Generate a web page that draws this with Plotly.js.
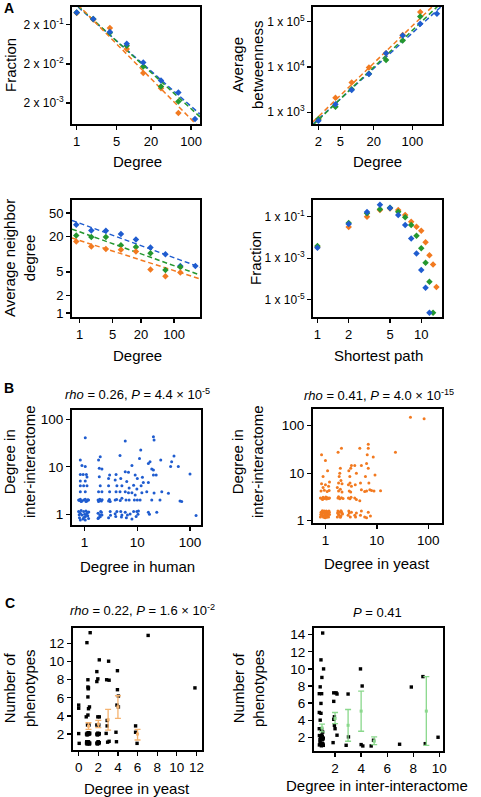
<!DOCTYPE html>
<html><head><meta charset="utf-8">
<script src="https://cdn.plot.ly/plotly-3.0.1.min.js"></script>
<style>html,body{margin:0;padding:0;background:#fff;}#chart{width:481px;height:797px;}</style>
</head><body><div id="chart"></div>
<script>
// ---------- Panel A1: degree distribution ----------
const A1_deg = [1, 1.95, 3.8, 7.5, 14.6, 29.8, 60, 117];
const A1_blue = [0.41, 0.28, 0.13, 0.065, 0.0218, 0.0075, 0.00375, 0.00079];
const A1_green = [0.41, 0.28, 0.125, 0.058, 0.0173, 0.0053, 0.0022];
const A1_orange = [0.40, 0.27, 0.165, 0.048, 0.0117, 0.0048, 0.00112];
const A1_fitX = [0.83, 143];
const A1_fitBlue = [0.771, 0.00105];
const A1_fitGreen = [0.822, 0.000893];
const A1_fitOrange = [0.91, 0.000459];
const A1_yticks = [0.2, 0.02, 0.002];
const A1_yticktext = ['2 x 10<sup>-1</sup>', '2 x 10<sup>-2</sup>', '2 x 10<sup>-3</sup>'];
const A_xticks = [1, 5, 20, 100];

// ---------- Panel A2: betweenness ----------
const A2_deg = [2, 4.07, 8, 16.4, 33.5, 67, 139, 279];
const A2_blue = [653, 1500, 3100, 7000, 20000, 49000, 89000, 148000];
const A2_green = [711, 1330, 3220, 7010, 14250, 38100, 129000];
const A2_orange = [711, 2100, 4500, 9660, 20000, 50000, 161000];
const A2_fitX = [1.6, 344];
const A2_fitBlue = [552, 221000];
const A2_fitGreen = [526, 265500];
const A2_fitOrange = [619, 340000];
const A2_xticks = [2, 5, 20, 100];
const A2_yticks = [1000, 10000, 100000];
const A2_yticktext = ['1 x 10<sup>3</sup>', '1 x 10<sup>4</sup>', '1 x 10<sup>5</sup>'];

// ---------- Panel A3: average neighbour degree ----------
const A3_deg = [0.85, 1.77, 3.6, 7.5, 15.6, 31.7, 65.8, 136, 283];
const A3_blue = [31.7, 25.3, 25, 22, 17.8, 13, 10, 6.3, 6.3];
const A3_green = [20.8, 19.5, 19.5, 14.2, 13.3, 10.4, 5.4, 6.07];
const A3_orange = [16.4, 13.5, 12.3, 11.9, 11.1, 5.5, 4.2, 4.9];
const A3_fitX = [0.69, 356];
const A3_fitBlue = [37.5, 6.0];
const A3_fitGreen = [26.7, 4.42];
const A3_fitOrange = [18.8, 3.8];
const A3_yticks = [1, 2, 5, 20, 50];

// ---------- Panel A4: shortest path ----------
const A4_path = [1, 2, 3, 4, 5, 6, 7, 8, 9, 10, 11, 12, 13, 14];
const A4_blue = [0.0032, 0.045, 0.17, 0.38, 0.26, 0.12, 0.04, 0.009, 0.0017, 0.00027, 0.000037, 0.0000023];
const A4_green = [0.0039, 0.05, 0.146, 0.23, 0.27, 0.175, 0.093, 0.04, 0.012, 0.003, 0.0006, 0.000072, 0.0000023];
const A4_orange = [0.0035, 0.032, 0.10, 0.21, 0.25, 0.21, 0.12, 0.0575, 0.033, 0.021, 0.0058, 0.0014, 0.0005, 0.00004];
const A4_xticks = [1, 2, 5, 10];
const A4_yticks = [0.1, 0.001, 0.00001];
const A4_yticktext = ['1 x 10<sup>-1</sup>', '1 x 10<sup>-3</sup>', '1 x 10<sup>-5</sup>'];

// ---------- Panel B1: human degree vs inter-interactome degree ----------
const B1_pts = [
 [1.03,41],[0.83,13.9],[0.89,10.6],[1.03,10.1],[0.83,6.9],[0.94,6.9],[1.08,6.9],[1.11,6.1],[0.83,5.0],[1.03,5.0],
 [0.83,4.0],[0.96,4.0],[1.11,4.0],[0.83,3.0],[1.03,3.0],
 [0.77,2.0],[0.83,2.07],[0.89,1.9],[0.96,2.0],[1.03,2.07],[1.11,1.9],[1.19,2.0],[0.86,1.85],[1.06,1.85],[0.8,1.95],[1.15,2.03],
 [0.77,1.14],[0.83,1.05],[0.89,0.97],[0.96,1.14],[1.03,0.89],[1.11,1.05],[1.19,0.82],[0.8,0.85],[0.86,1.2],[0.93,0.8],
 [1.0,1.0],[1.06,1.17],[1.15,0.93],[0.83,0.76],[1.03,0.76],[1.13,1.1],[0.79,0.98],[0.97,0.86],[1.09,0.95],[1.2,1.12],
 [1.98,16.3],[1.84,13.9],[1.9,9.3],[2.13,9.0],[1.9,6.2],[1.98,4.0],[1.84,3.0],[2.13,3.0],
 [1.8,2.0],[1.94,2.07],[2.08,1.9],[1.84,1.85],[1.98,1.98],[2.15,2.02],
 [1.8,1.05],[1.94,0.97],[2.08,1.1],[1.84,0.85],[1.98,0.89],[2.13,0.97],[1.8,0.82],[2.02,1.15],
 [2.98,6.7],[2.85,5.7],[2.85,4.0],[2.98,3.0],[2.85,1.9],[3.06,1.85],[3.06,1.14],[2.85,0.85],[2.95,2.05],[3.1,0.95],
 [3.95,6.9],[3.8,5.3],[4.1,4.0],[3.95,3.0],[3.8,2.0],[4.1,1.14],[3.8,1.03],[4.05,2.05],[3.9,0.9],
 [4.7,17.2],[4.85,5.7],[5.1,4.0],[4.7,3.0],[5.1,2.17],[4.85,1.14],[5.1,0.97],[4.75,1.95],[5.0,0.88],
 [5.9,35],[5.9,7.9],[6.8,7.7],[6.3,4.9],[5.9,3.0],[6.8,2.85],[6.1,2.0],[7.0,2.0],[5.9,1.1],[6.5,0.97],[7.3,1.02],[6.2,0.85],[7.0,3.6],
 [7.9,10.6],[9.1,6.7],[10.0,5.7],[8.5,4.1],[9.8,3.4],[7.9,2.85],[9.1,2.55],[10.0,2.0],[8.5,1.14],[9.8,1.14],[10.5,1.18],[7.9,0.8],[8.8,2.0],[9.5,0.9],[10.3,1.0],
 [11.0,15],[11.6,22.6],[13.0,4.7],[12.2,2.85],[11.3,2.0],[12.5,6.0],[11.8,4.0],
 [16.2,11.8],[17.4,12.8],[18.8,9.0],[20.2,6.7],[16.2,4.7],[18.8,2.0],[16.2,1.1],[20.2,43],[20.8,36.6],[20.2,8.6],[20.8,2.8],[15.1,3.0],[17.0,1.0],
 [23.4,1.1],[22.8,6.7],[27.8,13.9],[29.1,3.0],[26.9,2.0],
 [38.9,2.77],[44.8,12.8],[49.6,16.9],[42.8,10.1],
 [60,10.1],[64.6,1.9],[69.5,1.85],[100,7.1],[130,0.94]
];

// ---------- Panel B2: yeast degree vs inter-interactome degree ----------
const B2_pts = [
 [0.8,1.2],[0.85,1.3],[0.9,1.45],[0.95,1.6],[1.0,1.25],[1.05,1.4],[1.1,1.55],[1.15,1.2],[1.2,1.35],[0.82,1.5],
 [0.87,1.62],[0.92,1.18],[0.97,1.33],[1.02,1.5],[1.07,1.22],[1.12,1.38],[1.17,1.6],[0.84,1.4],[0.89,1.25],[0.94,1.5],
 [0.99,1.15],[1.04,1.6],[1.09,1.3],[1.14,1.47],[0.81,1.35],[0.96,1.42],[1.06,1.18],[1.19,1.5],[0.91,1.58],[1.01,1.36],
 [0.8,3.0],[0.85,2.9],[0.9,3.1],[0.95,2.95],[1.0,3.0],[1.05,2.85],[1.1,3.05],[1.15,2.95],[0.88,2.8],[1.02,3.15],[1.2,3.0],
 [0.82,4.2],[0.95,4.4],[1.08,4.1],[1.18,4.3],
 [0.84,6.0],[1.0,5.7],[1.15,5.3],[0.9,5.0],[1.2,6.5],
 [0.9,8.5],[1.1,11.2],[0.84,24.3],[1.0,18.5],
 [1.7,1.2],[1.8,1.35],[1.9,1.5],[2.0,1.25],[2.1,1.45],[1.75,1.6],[1.85,1.3],[1.95,1.18],[2.05,1.55],[2.15,1.38],[1.72,1.45],[2.0,1.62],
 [1.75,3.0],[1.9,2.9],[2.05,3.05],[2.2,2.95],[1.8,3.2],
 [1.8,4.2],[1.95,4.6],[2.1,4.0],[1.7,5.0],
 [1.8,6.2],[2.0,7.0],[2.1,6.0],
 [1.9,10.0],[1.95,12.7],[1.76,27.6],[2.05,33.3],[1.85,8.5],
 [2.76,1.3],[2.9,1.45],[3.05,1.2],[3.2,1.5],[2.85,1.6],[2.8,3.0],[3.0,2.9],[3.15,3.1],[2.9,4.2],[3.1,4.0],
 [2.8,5.7],[3.0,6.2],[3.2,5.3],[2.98,8.5],[2.85,11.2],[3.1,12.7],[3.2,14.5],
 [3.72,1.3],[4.0,1.45],[3.85,1.2],[3.72,3.0],[4.0,2.8],[3.8,5.7],[4.0,10.0],[3.72,14.5],
 [4.66,33.3],[5.0,14.5],[4.8,6.2],[5.0,4.5],[4.66,2.63],[5.0,1.6],[4.8,1.3],
 [5.8,1.2],[6.3,1.15],[6.8,1.5],[5.8,4.1],[6.3,4.2],[7.3,4.5],[6.8,12.7],[6.3,16],[6.5,24.3],[6.8,40.5],[6.8,33.3],[6.0,8.5],[7.0,6.2],[7.5,1.25],
 [8.5,22],[9.2,9.2],[7.9,4.3],[8.8,4.2],
 [11.8,4.26],[23,27.6],[45,150],[83,140]
];
const B_ticks = [1, 10, 100];

// ---------- Panel C1: yeast degree vs number of phenotypes ----------
const C1_pts = [
 [0,5.2],[0,4.85],[0,2.05],[0.05,0.97],
 [1.17,13.2],[0.84,12.1],[0.94,8.0],[0.94,7.2],[1.0,7.1],[0.97,7.0],[0.94,6.1],[1.1,5.0],[1.0,4.8],[0.94,4.1],[0.77,3.9],[0.9,3.0],[1.05,3.0],
 [0.8,2.0],[0.88,2.1],[0.95,1.95],[1.02,2.05],[1.1,2.0],[0.85,1.9],[1.0,2.15],[1.12,2.1],[0.92,2.05],
 [0.8,1.0],[0.88,1.1],[0.95,0.95],[1.02,1.05],[1.1,0.9],[0.85,0.9],[1.0,1.15],[1.12,1.0],[0.92,1.05],[1.06,0.95],[0.82,1.15],
 [2.1,10.2],[1.85,8.9],[1.95,8.1],[1.85,7.8],[1.95,3.9],[2.1,3.9],[1.85,3.0],[2.05,3.0],
 [1.85,2.0],[1.95,2.1],[2.05,1.95],[2.1,2.05],[1.9,1.9],
 [1.85,1.0],[1.95,1.1],[2.05,0.95],[2.1,1.05],[1.9,0.9],[2.0,1.15],
 [3.05,10.05],[2.85,8.0],[3.1,7.95],[2.9,3.5],[2.9,2.9],[2.8,2.07],[2.95,1.1],[3.1,1.2],
 [3.95,9.0],[3.95,6.9],[4.05,6.2],[3.9,5.2],[4.05,5.0],[3.8,2.2],[3.85,1.15],
 [5.8,2.9],[5.8,2.2],[5.95,0.97],
 [7.08,12.9],[11.85,7.1]
];
const C1_barX = [1, 2, 3, 4, 6];
const C1_barMean = [2.88, 3.1, 3.58, 5.0, 2.0];
const C1_barHigh = [3.25, 3.51, 4.72, 6.23, 2.51];
const C1_barLow = [2.51, 2.70, 2.44, 3.73, 1.34];
const C1_xticks = [0, 2, 4, 6, 8, 10, 12];
const C1_yticks = [2, 4, 6, 8, 10, 12];

// ---------- Panel C2: inter-interactome degree vs number of phenotypes ----------
const C2_pts = [
 [1.05,14.2],[0.92,11.06],[1.12,10.0],[0.99,9.0],[0.86,7.9],[0.79,7.1],[0.97,7.1],[0.92,5.96],[0.79,4.9],[0.92,4.8],[0.86,4.0],[0.79,3.0],[0.97,2.94],[1.05,2.6],
 [0.8,2.2],[0.88,2.0],[0.95,1.85],[1.02,2.1],[1.1,1.9],[0.84,1.7],[0.98,2.25],[1.06,1.75],[0.9,2.05],
 [0.8,1.1],[0.88,1.2],[0.95,1.0],[1.02,1.3],[1.1,1.05],[0.85,1.4],[1.0,1.15],[0.92,1.3],[1.08,1.2],
 [1.9,7.2],[2.08,7.2],[2.15,7.06],[1.9,6.2],[1.95,4.4],[1.9,4.1],[1.95,3.4],[2.0,3.0],[2.15,2.24],[1.85,1.37],
 [3.0,7.06],[3.03,2.04],[2.85,1.06],
 [3.95,10.0],[4.08,8.0],[4.13,0.98],[4.0,1.14],
 [4.95,1.65],[4.77,0.98],
 [6.95,1.18],[7.85,7.88],[8.74,9.1],[8.92,1.25],[9.9,2.0]
];
const C2_barX = [1, 2, 3, 4, 5, 9];
const C2_barMean = [3.1, 4.2, 3.4, 5.06, 1.53, 5.06];
const C2_barHigh = [3.53, 4.9, 5.25, 7.4, 2.04, 9.1];
const C2_barLow = [2.63, 3.6, 1.53, 2.7, 1.14, 1.06];
const C2_xticks = [2, 4, 6, 8, 10];
const C2_yticks = [2, 4, 6, 8, 10, 12, 14];

// ---------- styling ----------
const W = 481, H = 797;
const BLUE = '#1f5ccf', GREEN = '#24972f', ORANGE = '#f27a20';
const LORANGE = '#f5b370', LGREEN = '#8ad88c';
const FONT = 'Liberation Sans, Arial, Helvetica, sans-serif';

function box(l, r, t, b) { return { x: [l / W, r / W], y: [1 - b / H, 1 - t / H] }; }
function axis(domain, type, range, tickvals, ticktext, fs, anchor) {
  const a = {
    domain: domain, type: type, range: range, anchor: anchor,
    tickmode: 'array', tickvals: tickvals,
    showline: true, mirror: true, linecolor: '#000', linewidth: 2,
    ticks: 'outside', ticklen: 4, tickwidth: 1.3, tickcolor: '#000',
    showgrid: false, zeroline: false,
    tickfont: { family: FONT, size: fs, color: '#000' }
  };
  if (ticktext) a.ticktext = ticktext;
  return a;
}

const P = {
  A1: box(72, 200, 7, 124), A2: box(313, 442, 7, 124),
  A3: box(72, 200, 200, 317), A4: box(313, 442, 200, 317),
  B1: box(72, 201, 410, 525), B2: box(313, 442, 409, 523),
  C1: box(73, 202, 628, 750), C2: box(314, 443, 628, 751)
};

const traces = [];
function pts(x, y, color, xa, ya, sym, size) {
  traces.push({ type: 'scatter', mode: 'markers', x: x, y: y, xaxis: xa, yaxis: ya,
    marker: { color: color, size: size, symbol: sym, line: { width: 0 } }, hoverinfo: 'skip' });
}
function fit(x, y, color, xa, ya) {
  traces.push({ type: 'scatter', mode: 'lines', x: x, y: y, xaxis: xa, yaxis: ya,
    line: { color: color, width: 1.5, dash: '5px,3px' }, hoverinfo: 'skip' });
}
function bars(x, mean, hi, lo, color, xa, ya) {
  traces.push({ type: 'scatter', mode: 'markers', x: x, y: mean, xaxis: xa, yaxis: ya,
    marker: { color: color, size: 3, symbol: 'square' },
    error_y: { type: 'data', symmetric: false,
      array: hi.map((h, i) => h - mean[i]), arrayminus: lo.map((l, i) => mean[i] - l),
      color: color, thickness: 1.3, width: 3 }, hoverinfo: 'skip' });
}

const MS = 5;
// A1
fit(A1_fitX, A1_fitBlue, BLUE, 'x', 'y');
fit(A1_fitX, A1_fitGreen, GREEN, 'x', 'y');
fit(A1_fitX, A1_fitOrange, ORANGE, 'x', 'y');
pts(A1_deg.slice(0, A1_orange.length), A1_orange, ORANGE, 'x', 'y', 'diamond', MS);
pts(A1_deg.slice(0, A1_green.length), A1_green, GREEN, 'x', 'y', 'diamond', MS);
pts(A1_deg, A1_blue, BLUE, 'x', 'y', 'diamond', MS);
// A2
fit(A2_fitX, A2_fitBlue, BLUE, 'x2', 'y2');
fit(A2_fitX, A2_fitGreen, GREEN, 'x2', 'y2');
fit(A2_fitX, A2_fitOrange, ORANGE, 'x2', 'y2');
pts(A2_deg.slice(0, A2_orange.length), A2_orange, ORANGE, 'x2', 'y2', 'diamond', MS);
pts(A2_deg.slice(0, A2_green.length), A2_green, GREEN, 'x2', 'y2', 'diamond', MS);
pts(A2_deg, A2_blue, BLUE, 'x2', 'y2', 'diamond', MS);
// A3
fit(A3_fitX, A3_fitBlue, BLUE, 'x3', 'y3');
fit(A3_fitX, A3_fitGreen, GREEN, 'x3', 'y3');
fit(A3_fitX, A3_fitOrange, ORANGE, 'x3', 'y3');
pts(A3_deg, A3_blue, BLUE, 'x3', 'y3', 'diamond', MS);
pts(A3_deg.slice(0, A3_green.length), A3_green, GREEN, 'x3', 'y3', 'diamond', MS);
pts(A3_deg.slice(0, A3_orange.length), A3_orange, ORANGE, 'x3', 'y3', 'diamond', MS);
// A4
pts(A4_path.slice(0, A4_orange.length), A4_orange, ORANGE, 'x4', 'y4', 'diamond', MS);
pts(A4_path.slice(0, A4_green.length), A4_green, GREEN, 'x4', 'y4', 'diamond', MS);
pts(A4_path.slice(0, A4_blue.length), A4_blue, BLUE, 'x4', 'y4', 'diamond', MS);
// B
pts(B1_pts.map(p => p[0]), B1_pts.map(p => p[1]), BLUE, 'x5', 'y5', 'circle', 3);
pts(B2_pts.map(p => p[0]), B2_pts.map(p => p[1]), ORANGE, 'x6', 'y6', 'circle', 3);
// C
pts(C1_pts.map(p => p[0]), C1_pts.map(p => p[1]), '#000', 'x7', 'y7', 'square', 3.4);
bars(C1_barX, C1_barMean, C1_barHigh, C1_barLow, LORANGE, 'x7', 'y7');
pts(C2_pts.map(p => p[0]), C2_pts.map(p => p[1]), '#000', 'x8', 'y8', 'square', 3.4);
bars(C2_barX, C2_barMean, C2_barHigh, C2_barLow, LGREEN, 'x8', 'y8');

const layout = {
  width: W, height: H, margin: { l: 0, r: 0, t: 0, b: 0, pad: 0 },
  paper_bgcolor: '#fff', plot_bgcolor: '#fff', showlegend: false,
  font: { family: FONT, color: '#000' },
  xaxis: axis(P.A1.x, 'log', [-0.082, 2.156], A_xticks, null, 13, 'y'),
  yaxis: axis(P.A1.y, 'log', [-3.232, -0.247], A1_yticks, A1_yticktext, 12, 'x'),
  xaxis2: axis(P.A2.x, 'log', [0.203, 2.537], A2_xticks, null, 13, 'y2'),
  yaxis2: axis(P.A2.y, 'log', [2.742, 5.318], A2_yticks, A2_yticktext, 12, 'x2'),
  xaxis3: axis(P.A3.x, 'log', [-0.161, 2.55], A_xticks, null, 13, 'y3'),
  yaxis3: axis(P.A3.y, 'log', [-0.068, 1.921], A3_yticks, null, 13, 'x3'),
  xaxis4: axis(P.A4.x, 'log', [-0.043, 1.2], A4_xticks, null, 13, 'y4'),
  yaxis4: axis(P.A4.y, 'log', [-5.84, -0.193], A4_yticks, A4_yticktext, 12, 'x4'),
  xaxis5: axis(P.B1.x, 'log', [-0.239, 2.208], B_ticks, null, 13.5, 'y5'),
  yaxis5: axis(P.B1.y, 'log', [-0.225, 2.196], B_ticks, null, 13.5, 'x5'),
  xaxis6: axis(P.B2.x, 'log', [-0.242, 2.267], B_ticks, null, 13.5, 'y6'),
  yaxis6: axis(P.B2.y, 'log', [-0.048, 2.35], B_ticks, null, 13.5, 'x6'),
  xaxis7: axis(P.C1.x, 'linear', [-0.58, 12.57], C1_xticks, null, 13.5, 'y7'),
  yaxis7: axis(P.C1.y, 'linear', [0.236, 13.72], C1_yticks, null, 13.5, 'x7'),
  xaxis8: axis(P.C2.x, 'linear', [0.385, 10.28], C2_xticks, null, 13.5, 'y8'),
  yaxis8: axis(P.C2.y, 'linear', [0.39, 14.79], C2_yticks, null, 13.5, 'x8'),
  annotations: []
};

function txt(text, px, py, size, opts) {
  const a = Object.assign({ text: text, xref: 'paper', yref: 'paper', x: px / W, y: 1 - py / H,
    xanchor: 'center', yanchor: 'middle', showarrow: false,
    font: { family: FONT, size: size, color: '#000' } }, opts || {});
  layout.annotations.push(a);
}
// panel letters
txt('<b>A</b>', 9, 8, 14);
txt('<b>B</b>', 9, 388, 14);
txt('<b>C</b>', 10, 603, 14);
// A titles
txt('Fraction', 10, 65, 15, { textangle: -90 });
txt('Degree', 137, 162, 15);
txt('Average<br>betweenness', 247, 65, 15, { textangle: -90 });
txt('Degree', 377, 162, 15);
txt('Average neighbor<br>degree', 19, 258, 15, { textangle: -90 });
txt('Degree', 137, 355, 15);
txt('Fraction', 255, 258, 15, { textangle: -90 });
txt('Shortest path', 378, 355, 15);
// B titles
txt('<i>rho</i> = 0.26, <i>P</i> = 4.4 × 10<sup>-5</sup>', 137.5, 394, 13);
txt('<i>rho</i> = 0.41, <i>P</i> = 4.0 × 10<sup>-15</sup>', 379, 395, 13);
txt('Degree in<br>inter-interactome', 19, 462, 15, { textangle: -90 });
txt('Degree in<br>inter-interactome', 247, 462, 15, { textangle: -90 });
txt('Degree in human', 137, 566, 15);
txt('Degree in yeast', 377, 563, 15);
// C titles
txt('<i>rho</i> = 0.22, <i>P</i> = 1.6 × 10<sup>-2</sup>', 142.5, 610, 13);
txt('<i>P</i> = 0.41', 377, 612, 13);
txt('Number of<br>phenotypes', 19, 688, 15, { textangle: -90 });
txt('Number of<br>phenotypes', 248, 688, 15, { textangle: -90 });
txt('Degree in yeast', 137, 788, 15);
txt('Degree in inter-interactome', 377, 785, 15);

Plotly.newPlot('chart', traces, layout, { displayModeBar: false, staticPlot: true });
</script></body></html>
